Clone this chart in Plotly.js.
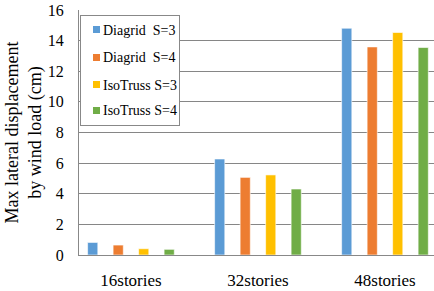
<!DOCTYPE html>
<html>
<head>
<meta charset="utf-8">
<script src="https://cdn.plot.ly/plotly-3.0.1.min.js"></script>
<style>html,body{margin:0;padding:0;background:#fff;}#chart{width:434px;height:291px;}</style>
</head>
<body>
<div id="chart"></div>
<script>
var categories = ["16stories", "32stories", "48stories"];
var seriesNames = ["Diagrid\u00a0 S=3", "Diagrid\u00a0 S=4", "IsoTruss S=3", "IsoTruss S=4"];
var diagridS3 = [0.82, 6.27, 14.81];
var diagridS4 = [0.65, 5.07, 13.59];
var isoTrussS3 = [0.41, 5.23, 14.53];
var isoTrussS4 = [0.37, 4.31, 13.55];
var colors = ["#5B9BD5", "#ED7D31", "#FFC000", "#70AD47"];
var yTicks = [0, 2, 4, 6, 8, 10, 12, 14, 16];

var values = [diagridS3, diagridS4, isoTrussS3, isoTrussS4];
var data = values.map(function (v, i) {
  return {
    type: "bar",
    x: categories,
    y: v,
    name: seriesNames[i],
    showlegend: false,
    marker: { color: colors[i], line: { color: "rgba(255,255,255,0.6)", width: 1 } }
  };
});

var fam = "'Liberation Serif', 'Times New Roman', serif";
var tickFontY = { family: fam, size: 16, color: "#000" };
var tickFontX = { family: fam, size: 17, color: "#000" };
var legFont = { family: fam, size: 14, color: "#000" };

// plot area in pixels
var L = 79, T = 10, W = 434 - 79, H = 255 - 10;
function px(x) { return (x - L) / W; }
function py(y) { return (T + H - y) / H; }

// legend drawn with annotations (box, colour squares, labels)
var annotations = [{
  xref: "paper", yref: "paper", x: px(80), y: py(15),
  xanchor: "left", yanchor: "top", showarrow: false,
  text: " ", width: 98, height: 109, bgcolor: "#fff",
  bordercolor: "#888", borderwidth: 1, borderpad: 0
}];
var rowY = [30, 57.3, 84.5, 110.5];
seriesNames.forEach(function (n, i) {
  annotations.push({
    xref: "paper", yref: "paper", x: px(93), y: py(rowY[i]),
    xanchor: "left", yanchor: "middle", showarrow: false,
    text: " ", width: 7, height: 7, bgcolor: colors[i],
    borderwidth: 0, borderpad: 0, font: { size: 4 }
  });
  annotations.push({
    xref: "paper", yref: "paper", x: px(101), y: py(rowY[i] + 0.5),
    xanchor: "left", yanchor: "middle", showarrow: false,
    text: n, font: legFont
  });
});

var layout = {
  width: 434, height: 291,
  margin: { l: 79, r: 0, t: 10, b: 36 },
  paper_bgcolor: "#fff", plot_bgcolor: "#fff",
  font: tickFontY,
  barmode: "group",
  bargap: 0.197,
  bargroupgap: 0.6,
  showlegend: false,
  annotations: annotations,
  xaxis: {
    type: "category",
    range: [-0.409, 2.386],
    showgrid: false,
    showline: true, linecolor: "#888", linewidth: 1,
    ticks: "outside", ticklen: 10, tickcolor: "rgba(0,0,0,0)",
    tickfont: tickFontX,
    zeroline: false
  },
  yaxis: {
    range: [0, 16],
    tickvals: yTicks,
    showgrid: true, gridcolor: "#868686", gridwidth: 1,
    showline: true, linecolor: "#888", linewidth: 1,
    zeroline: false,
    ticks: "outside", ticklen: 11, tickcolor: "rgba(0,0,0,0)",
    tickfont: tickFontY,
    title: { text: "Max lateral displacement<br>by wind load (cm)", font: { family: fam, size: 18, color: "#000" }, standoff: 1 }
  }
};
Plotly.newPlot("chart", data, layout, { displayModeBar: false, staticPlot: true });
</script>
</body>
</html>
